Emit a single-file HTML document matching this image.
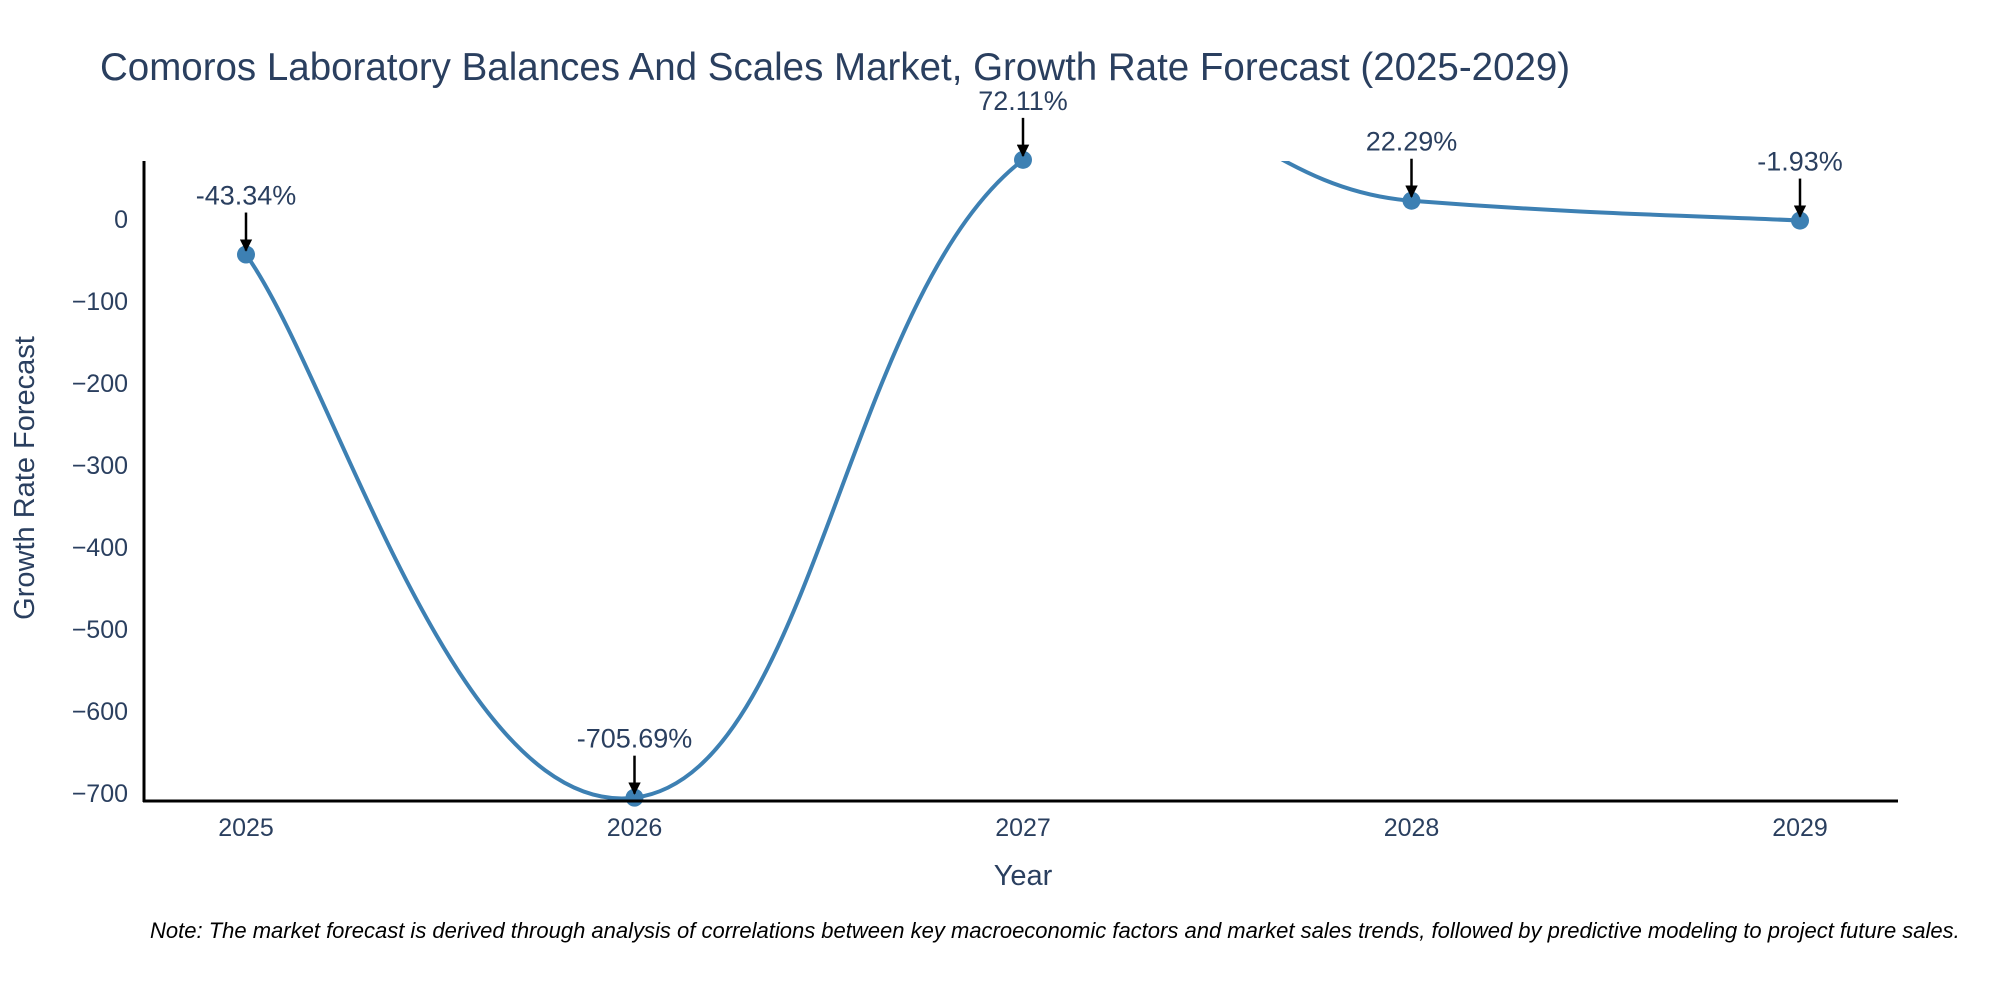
<!DOCTYPE html>
<html><head><meta charset="utf-8"><style>
html,body{margin:0;padding:0;background:#fff;}
svg{display:block;font-family:"Liberation Sans",Arial,sans-serif;}
</style></head><body>
<svg id="chart" width="2000" height="1000" viewBox="0 0 2000 1000">
<defs>
<clipPath id="plotclip"><rect x="144" y="161" width="1754" height="640"/></clipPath>
<marker id="ah" viewBox="0 0 10 10" refX="9" refY="5" markerWidth="5" markerHeight="5" orient="auto"><path d="M0,0 L10,5 L0,10 z" fill="#000"/></marker>
</defs>
<text x="100" y="80" font-size="38.5" fill="#2a3f5f">Comoros Laboratory Balances And Scales Market, Growth Rate Forecast (2025-2029)</text>
<g id="yticks"></g><g id="xticks"></g>
<g clip-path="url(#plotclip)"><path id="line" fill="none" stroke="#3d80b3" stroke-width="4"/></g>
<g id="points"></g><g id="annots"></g>
<line x1="144" y1="161" x2="144" y2="802" stroke="#000" stroke-width="3"/>
<line x1="143" y1="801" x2="1898" y2="801" stroke="#000" stroke-width="3"/>
<text x="1023" y="885" font-size="29" fill="#2a3f5f" text-anchor="middle">Year</text>
<text transform="translate(34,478) rotate(-90)" font-size="29" fill="#2a3f5f" text-anchor="middle">Growth Rate Forecast</text>
<text x="150" y="938" font-size="22" font-style="italic" fill="#000">Note: The market forecast is derived through analysis of correlations between key macroeconomic factors and market sales trends, followed by predictive modeling to project future sales.</text>
</svg>
<script>
const years = [2025, 2026, 2027, 2028, 2029];
const values = [-43.34, -705.69, 72.11, 22.29, -1.93];
const labels = ["-43.34%", "-705.69%", "72.11%", "22.29%", "-1.93%"];
const yTickValues = [0, -100, -200, -300, -400, -500, -600, -700];
const yTickLabels = ["0", "\u2212100", "\u2212200", "\u2212300", "\u2212400", "\u2212500", "\u2212600", "\u2212700"];

const NS = "http://www.w3.org/2000/svg";
const X0 = 246, XS = 388.5, Y0 = 219, YS = 0.82;
function xs(v){ return X0 + (v - years[0]) * XS; }
function ys(v){ return Y0 - v * YS; }
function mk(tag, attrs, parent){ const e = document.createElementNS(NS, tag); for (const k in attrs) e.setAttribute(k, attrs[k]); parent.appendChild(e); return e; }

const yt = document.getElementById('yticks');
yTickValues.forEach((v, i) => {
  const t = mk('text', {x: 128, y: ys(v) + 9, 'font-size': 25, fill: '#2a3f5f', 'text-anchor': 'end'}, yt);
  t.textContent = yTickLabels[i];
  
  
});
const xt = document.getElementById('xticks');
years.forEach(y => {
  const t = mk('text', {x: xs(y), y: 836, 'font-size': 25, fill: '#2a3f5f', 'text-anchor': 'middle'}, xt);
  t.textContent = String(y);
  
  
});

const pts = years.map((y, i) => [xs(y), ys(values[i])]);
let d = "M" + pts[0][0] + "," + pts[0][1];
const k = 0.23;
for (let i = 0; i < pts.length - 1; i++) {
  const p0 = pts[Math.max(0, i-1)], p1 = pts[i], p2 = pts[i+1], p3 = pts[Math.min(pts.length-1, i+2)];
  const c1 = [p1[0] + (p2[0]-p0[0])*k, p1[1] + (p2[1]-p0[1])*k];
  const c2 = [p2[0] - (p3[0]-p1[0])*k, p2[1] - (p3[1]-p1[1])*k];
  d += " C" + c1.join(",") + " " + c2.join(",") + " " + p2.join(",");
}
document.getElementById('line').setAttribute('d', d);

const pg = document.getElementById('points');
const ag = document.getElementById('annots');
pts.forEach((p, i) => {
  const c = mk('circle', {cx: p[0], cy: p[1], r: 9, fill: '#3d80b3'}, pg);
  
  
  const l = mk('line', {x1: p[0], y1: p[1] - 42, x2: p[0], y2: p[1] - 4, stroke: '#000', 'stroke-width': 2.5, 'marker-end': 'url(#ah)'}, ag);
  
  
  const t = mk('text', {x: p[0], y: p[1] - 50, 'font-size': 27, fill: '#2a3f5f', 'text-anchor': 'middle'}, ag);
  t.textContent = labels[i];
  
  
});
</script>
</body></html>
